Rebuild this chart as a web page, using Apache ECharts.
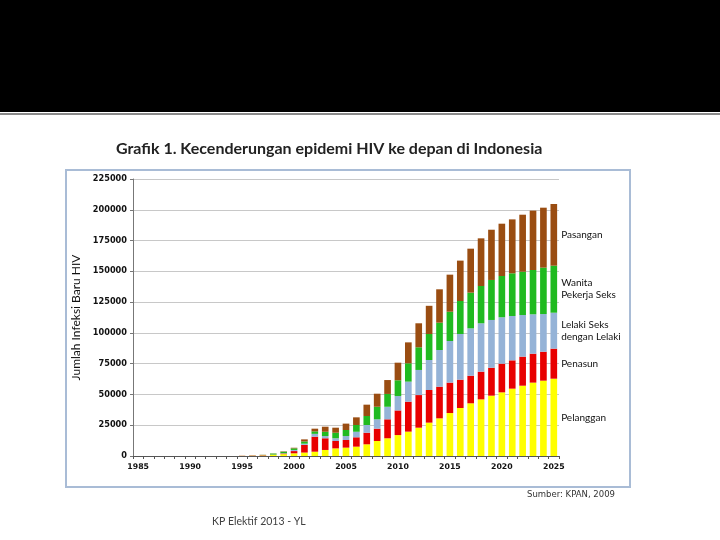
<!DOCTYPE html>
<html><head><meta charset="utf-8">
<script src="https://cdn.jsdelivr.net/npm/echarts@6/dist/echarts.min.js"></script>
<style>html,body{margin:0;padding:0;background:#fff}#c{width:720px;height:540px}</style>
</head><body><div id="c"></div>
<script>
const years = [];
for (let y = 1985; y <= 2025; y++) years.push(String(y));
const seriesNames = ['Pelanggan', 'Penasun', 'Lelaki Seks\ndengan Lelaki', 'Wanita\nPekerja Seks', 'Pasangan'];
// values 1985..2025
const pelanggan = [0,0,0,0,0,0,0,0,0,0,100,200,400,1000,1500,2200,2800,3500,4900,6200,6800,7600,9500,12200,14400,17000,19800,23000,27100,30600,34900,39000,42800,46000,49000,51700,54700,57100,59600,61200,62800];
const penasun = [0,0,0,0,0,0,0,0,0,0,100,200,300,100,500,1800,6200,12200,9500,6000,6200,7600,9400,10000,15400,20000,24300,26500,26500,25700,24700,23000,22400,22500,22700,23300,23000,23600,23500,23500,24400];
const lsl = [0,0,0,0,0,0,0,0,0,0,50,50,50,100,300,900,1000,2300,1800,2200,3200,4500,6300,7600,10200,11700,16300,20400,24400,29800,33800,37100,38500,39300,38800,37700,36000,33800,32000,30600,29200];
const wps = [0,0,0,0,0,0,0,0,0,0,0,50,150,800,1200,1300,1800,2000,3500,4500,4900,5500,7300,10200,10400,12800,14900,18400,21100,22200,23800,26800,29000,30300,32500,33500,34700,35200,36000,37700,38200];
const pasangan = [0,0,0,0,0,0,0,0,0,0,50,100,100,100,300,500,1700,2200,4100,4100,5200,6200,9200,10600,11300,14300,17000,19500,22900,27100,30100,32800,35700,38700,40800,42500,43800,46300,48200,48700,50100];
const yTicks = [0,25000,50000,75000,100000,125000,150000,175000,200000,225000];
const colors = ['#FFFF00', '#E80000', '#95B3D7', '#20BA20', '#9A4D12'];
const dataSets = [pelanggan, penasun, lsl, wps, pasangan];

const chart = echarts.init(document.getElementById('c'), null, {renderer: 'canvas'});
const last = years.length - 1;
const series = dataSets.map((d, i) => ({
  name: seriesNames[i],
  type: 'bar',
  stack: 'total',
  barCategoryGap: '36%',
  itemStyle: {color: colors[i]},
  label: {
    show: true,
    position: 'right',
    distance: 4,
    formatter: p => p.dataIndex === last ? seriesNames[i] : '',
    fontFamily: 'Lato',
    fontSize: 10,
    lineHeight: 12,
    color: '#111',
    align: 'left'
  },
  data: d
}));

chart.setOption({
  animation: false,
  backgroundColor: '#fff',
  graphic: [
    {type: 'rect', shape: {x: 0, y: 0, width: 720, height: 112}, style: {fill: '#000'}, z: 0},
    {type: 'rect', shape: {x: 0, y: 113, width: 720, height: 2}, style: {fill: '#8a8a8a'}, z: 0},
    {type: 'rect', shape: {x: 66, y: 170, width: 564, height: 317}, style: {fill: 'none', stroke: '#A9BCD6', lineWidth: 2}, z: 0},
    {type: 'text', left: 116, top: 141, style: {text: 'Grafik 1. Kecenderungan epidemi HIV ke depan di Indonesia', fontFamily: 'Lato', fontWeight: 'bold', fontSize: 16, fill: '#222'}},
    {type: 'text', left: 527, top: 490, style: {text: 'Sumber: KPAN, 2009', fontFamily: 'DejaVu Sans', fontSize: 8.5, fill: '#333'}},
    {type: 'text', left: 212, top: 516, style: {text: 'KP Elektif 2013 - YL', fontFamily: 'Lato', fontSize: 10.5, fill: '#404040'}}
  ],
  grid: {left: 133, right: 161, top: 179, bottom: 84, containLabel: false},
  xAxis: {
    type: 'category',
    data: years,
    axisLine: {lineStyle: {color: '#555', width: 1}},
    axisTick: {show: true, interval: 0, length: 3, lineStyle: {color: '#555'}},
    axisLabel: {interval: 4, fontFamily: 'DejaVu Sans', fontWeight: 'bold', fontSize: 7.8, color: '#111', margin: 7}
  },
  yAxis: {
    type: 'value',
    min: 0, max: 225000, interval: 25000,
    name: 'Jumlah Infeksi Baru HIV',
    nameLocation: 'middle',
    nameGap: 50,
    nameTextStyle: {fontFamily: 'Lato', fontSize: 12, color: '#111'},
    axisLine: {show: true, lineStyle: {color: '#777'}},
    axisTick: {show: true, length: 3, lineStyle: {color: '#777'}},
    splitLine: {lineStyle: {color: '#C8C8C8'}},
    axisLabel: {fontFamily: 'DejaVu Sans', fontWeight: 'bold', fontSize: 8.2, color: '#111', margin: 6,
      formatter: v => yTicks.includes(v) ? String(v) : ''}
  },
  series: series
});
</script></body></html>
